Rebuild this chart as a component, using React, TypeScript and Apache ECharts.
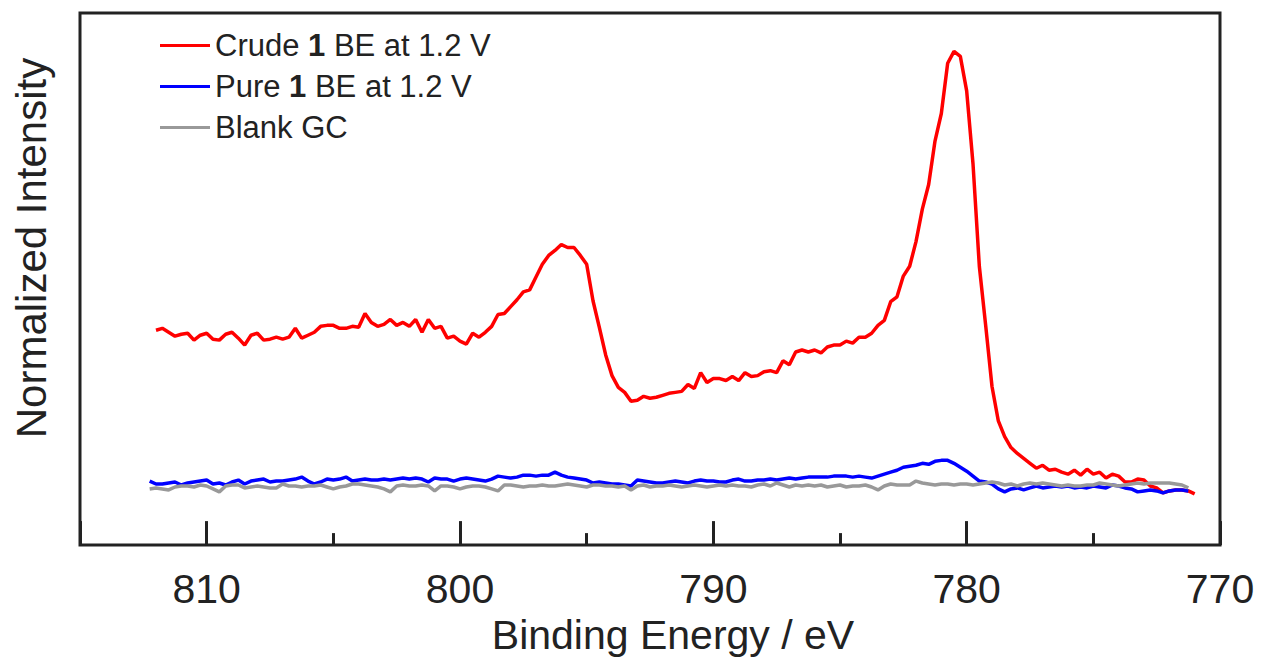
import React, { useEffect, useRef } from "react";
import * as echarts from "echarts";

// Binding energy grid (eV), from 812.25 down to 771.0 in 0.25 eV steps
const energyStart = 812.25;
const energyStep = 0.25;

const seriesNames = ["Crude 1 BE at 1.2 V", "Pure 1 BE at 1.2 V", "Blank GC"];
const seriesColors = ["#ff0000", "#0000ff", "#999999"];

const crudeIntensity: (number | null)[] = [
  null, 218, 220, 216, 212, 214, 215, 208, 213, 215,
  209, 208, 214, 216, 210, 203, 213, 215, 208, 209,
  211, 209, 211, 220, 210, 213, 216, 222, 223, 223,
  220, 220, 222, 221, 235, 226, 222, 224, 229, 223,
  226, 222, 229, 216, 229, 220, 222, 210, 212, 207,
  204, 215, 211, 216, 222, 234, 235, 242, 249, 257,
  259, 272, 285, 294, 299, 305, 302, 302, 294, 285,
  248, 221, 193, 172, 160, 155, 146, 147, 151, 149,
  150, 152, 154, 155, 156, 163, 159, 175, 165, 169,
  169, 167, 171, 167, 175, 171, 172, 176, 177, 175,
  187, 183, 196, 198, 196, 198, 195, 201, 203, 203,
  207, 205, 211, 211, 215, 223, 228, 247, 252, 273,
  283, 308, 341, 366, 410, 438, 489, 501, 496, 461,
  387, 283, 223, 161, 126, 110, 99, 93, 88, 83,
  78, 81, 76, 77, 74, 72, 76, 71, 77, 72,
  74, 68, 72, 70, 64, 64, 67, 66, 60, 58,
  53, 55, 56, 56, 55, 52,
];

const pureIntensity: (number | null)[] = [
  65, 62, 62, 63, 64, 61, 63, 64, 65, 66,
  62, 63, 61, 64, 66, 62, 65, 66, 67, 64,
  65, 65, 66, 67, 69, 65, 62, 64, 67, 66,
  67, 69, 65, 66, 67, 66, 66, 67, 66, 67,
  68, 67, 68, 67, 64, 68, 67, 67, 65, 67,
  68, 67, 66, 65, 67, 70, 69, 68, 69, 71,
  71, 70, 71, 71, 74, 71, 69, 68, 67, 66,
  63, 64, 63, 62, 62, 61, 60, 66, 65, 64,
  63, 63, 64, 65, 64, 63, 65, 66, 65, 65,
  64, 64, 66, 67, 65, 65, 66, 66, 67, 66,
  67, 68, 67, 68, 69, 69, 69, 69, 70, 70,
  70, 69, 70, 69, 68, 70, 72, 74, 76, 79,
  80, 81, 83, 82, 85, 86, 86, 83, 79, 75,
  70, 65, 64, 62, 57, 54, 57, 58, 56, 58,
  60, 58, 59, 60, 59, 60, 58, 59, 58, 60,
  59, 58, 61, 60, 58, 57, 54, 55, 56, 55,
  53, 55, 56, 56, 55, null,
];

const blankIntensity: (number | null)[] = [
  57, 58, 57, 56, 59, 60, 60, 59, 61, 60,
  57, 54, 60, 61, 61, 58, 59, 60, 59, 58,
  58, 62, 60, 60, 59, 60, 60, 61, 59, 57,
  59, 60, 62, 62, 61, 60, 59, 57, 54, 60,
  61, 60, 60, 61, 60, 55, 60, 60, 59, 57,
  59, 60, 60, 59, 57, 55, 61, 61, 60, 59,
  60, 60, 61, 60, 60, 61, 62, 61, 60, 59,
  61, 61, 60, 60, 59, 60, 56, 60, 61, 59,
  60, 60, 61, 60, 59, 60, 61, 60, 59, 60,
  61, 60, 61, 60, 60, 59, 61, 62, 60, 63,
  61, 59, 61, 60, 61, 60, 61, 59, 60, 61,
  59, 60, 60, 61, 59, 56, 60, 62, 61, 61,
  61, 65, 63, 62, 61, 62, 62, 61, 62, 62,
  61, 62, 63, 64, 63, 61, 62, 60, 62, 63,
  62, 63, 62, 61, 60, 61, 60, 60, 61, 61,
  63, 62, 61, 60, 61, 62, 63, 62, 63, 63,
  63, 63, 62, 61, 58, null,
];

const xMin = 770;
const xMax = 815;
const majorTickInterval = 10;
const minorTickInterval = 5;
const yMin = 0;
const yMax = 540;

const FONT = "'Liberation Sans', Arial, sans-serif";
const INK = "#222222";

function toPairs(values: (number | null)[]) {
  const out: [number, number][] = [];
  values.forEach((v, i) => {
    if (v !== null) out.push([energyStart - i * energyStep, v]);
  });
  return out;
}

export default function App() {
  const ref = useRef<HTMLDivElement>(null);

  useEffect(() => {
    if (!ref.current) return;
    const chart = echarts.init(ref.current, null, { renderer: "svg" });
    const allValues = [crudeIntensity, pureIntensity, blankIntensity];

    chart.setOption({
      animation: false,
      backgroundColor: "#ffffff",
      textStyle: { fontFamily: FONT },
      grid: {
        left: 80,
        right: 44,
        top: 13,
        bottom: 107,
        show: true,
        borderColor: INK,
        borderWidth: 3,
        backgroundColor: "transparent",
      },
      legend: {
        orient: "vertical",
        left: 160,
        top: 30,
        padding: 0,
        itemWidth: 50,
        itemHeight: 3,
        itemGap: 10,
        icon: "rect",
        data: seriesNames,
        formatter: (name: string) => name.replace(" 1 ", " {b|1} "),
        textStyle: {
          fontFamily: FONT,
          fontSize: 31,
          lineHeight: 31,
          color: INK,
          rich: {
            b: { fontFamily: FONT, fontSize: 31, lineHeight: 31, fontWeight: "bold", color: INK },
          },
        },
      },
      xAxis: [
        {
          type: "value",
          min: xMin,
          max: xMax,
          interval: majorTickInterval,
          inverse: true,
          position: "bottom",
          axisLine: { show: false },
          splitLine: { show: false },
          axisTick: { show: true, inside: true, length: 24, lineStyle: { color: INK, width: 3 } },
          axisLabel: {
            fontFamily: FONT,
            fontSize: 41,
            color: INK,
            margin: 23,
            formatter: (v: number) => (v % 10 === 0 ? String(v) : ""),
          },
          name: "Binding Energy / eV",
          nameLocation: "middle",
          nameGap: 62,
          nameTextStyle: {
            fontFamily: FONT,
            fontSize: 41,
            color: INK,
            padding: [0, 0, 0, 46],
          },
        },
        {
          type: "value",
          min: xMin,
          max: xMax,
          interval: minorTickInterval,
          inverse: true,
          position: "bottom",
          axisLine: { show: false },
          splitLine: { show: false },
          axisTick: { show: true, inside: true, length: 12, lineStyle: { color: INK, width: 3 } },
          axisLabel: { show: false },
        },
      ],
      yAxis: {
        type: "value",
        min: yMin,
        max: yMax,
        axisLine: { show: false },
        axisTick: { show: false },
        axisLabel: { show: false },
        splitLine: { show: false },
        name: "Normalized Intensity",
        nameLocation: "middle",
        nameGap: 28,
        nameTextStyle: {
          fontFamily: FONT,
          fontSize: 42,
          color: INK,
          padding: [0, 0, 0, 62],
        },
      },
      series: seriesNames.map((name, k) => ({
        name,
        type: "line",
        xAxisIndex: 0,
        symbol: "none",
        showSymbol: false,
        color: seriesColors[k],
        lineStyle: { color: seriesColors[k], width: 3.5 },
        data: toPairs(allValues[k]),
      })),
    });

    return () => chart.dispose();
  }, []);

  return (
    <div
      ref={ref}
      style={{ position: "absolute", left: 0, top: 0, width: 1264, height: 660 }}
    />
  );
}
